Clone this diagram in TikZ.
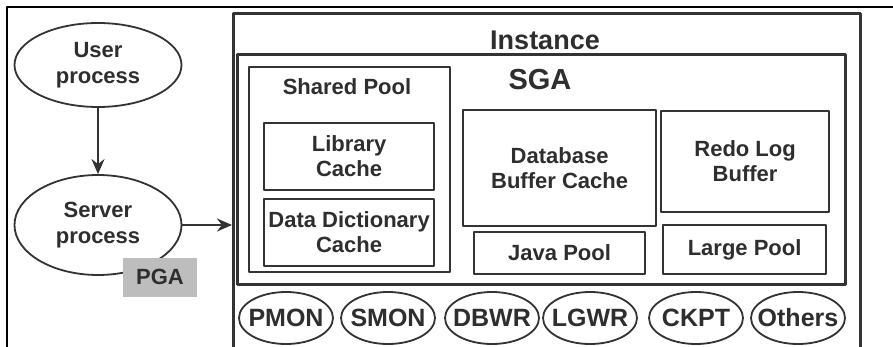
\documentclass[tikz,border=0pt]{standalone}
\usepackage{fontspec}
\setmainfont{Liberation Sans}
\usetikzlibrary{arrows.meta,shapes.geometric}
\definecolor{oraInk}{HTML}{2E2E2E}
\definecolor{oraLine}{HTML}{333333}
\definecolor{oraGrey}{HTML}{BDBDBD}

\begin{document}
\begin{tikzpicture}[x=1pt,y=-1pt,>={Stealth[length=15pt,width=13pt]},line join=round]
\path[fill=white] (0,0) rectangle (893,347);
\clip (0,0) rectangle (893,347);
\tikzset{box/.style={draw=oraLine,line width=2.2pt,inner sep=0pt,anchor=north west},lbl/.style={text=oraInk,font=\bfseries\fontsize{22}{25}\selectfont,align=center},proc/.style={ellipse,draw=oraLine,line width=1.8pt,text=oraInk,font=\bfseries\fontsize{22}{26}\selectfont,align=center},bgproc/.style={proc,minimum width=94pt,minimum height=52pt,inner xsep=-8pt,inner ysep=0pt,font=\bfseries\fontsize{25}{25}\selectfont},link/.style={draw=oraLine,line width=2.2pt,->}}
\draw[draw=black,line width=1.8pt] (7,352) -- (7,7) -- (898,7);
\node[box,line width=2.8pt,minimum width=627pt,minimum height=360pt] (inst) at (232,12) {};
\node[lbl,font=\bfseries\fontsize{27}{30}\selectfont] (insttitle) at (545,40) {Instance};
\node[box,line width=2.8pt,minimum width=608pt,minimum height=230pt] (sga) at (236,53) {};
\node[lbl,font=\bfseries\fontsize{29}{30}\selectfont] (sgatitle) at (540,80) {SGA};
\node[box,minimum width=201pt,minimum height=205pt] (shared) at (248,66) {};
\node[lbl] (sharedtitle) at (347,87) {Shared Pool};
\node[box,lbl,minimum width=170pt,minimum height=67pt] (libcache) at (263,122) {Library\\Cache};
\node[box,lbl,minimum width=170pt,minimum height=67pt] (dictcache) at (263,198) {Data Dictionary\\Cache};
\node[box,lbl,minimum width=193pt,minimum height=116pt] (bufcache) at (462,109) {Database\\Buffer Cache};
\node[box,lbl,minimum width=171pt,minimum height=42pt] (javapool) at (473,231) {Java Pool};
\node[box,lbl,minimum width=168pt,minimum height=101pt] (redobuf) at (660,110) {Redo Log\\Buffer};
\node[box,lbl,minimum width=163pt,minimum height=49pt] (largepool) at (662,224) {Large Pool};
\node[bgproc] (pmon) at (286,318) {PMON};
\node[bgproc] (smon) at (388,318) {SMON};
\node[bgproc] (dbwr) at (492,318) {DBWR};
\node[bgproc] (lgwr) at (590,318) {LGWR};
\node[bgproc] (ckpt) at (696,318) {CKPT};
\node[bgproc] (others) at (798,318) {Others};
\node[proc,minimum width=167pt,minimum height=84pt] (user) at (98,65) {User\\process};
\node[proc,minimum width=167pt,minimum height=100pt] (server) at (98,225) {Server\\process};
\node[lbl,fill=oraGrey,minimum width=74pt,minimum height=39pt,inner sep=0pt] (pga) at (160,277) {PGA};
\draw[link] (user) -- (server);
\draw[link] (server.east) -- (server.east -| inst.west);
\end{tikzpicture}
\end{document}
